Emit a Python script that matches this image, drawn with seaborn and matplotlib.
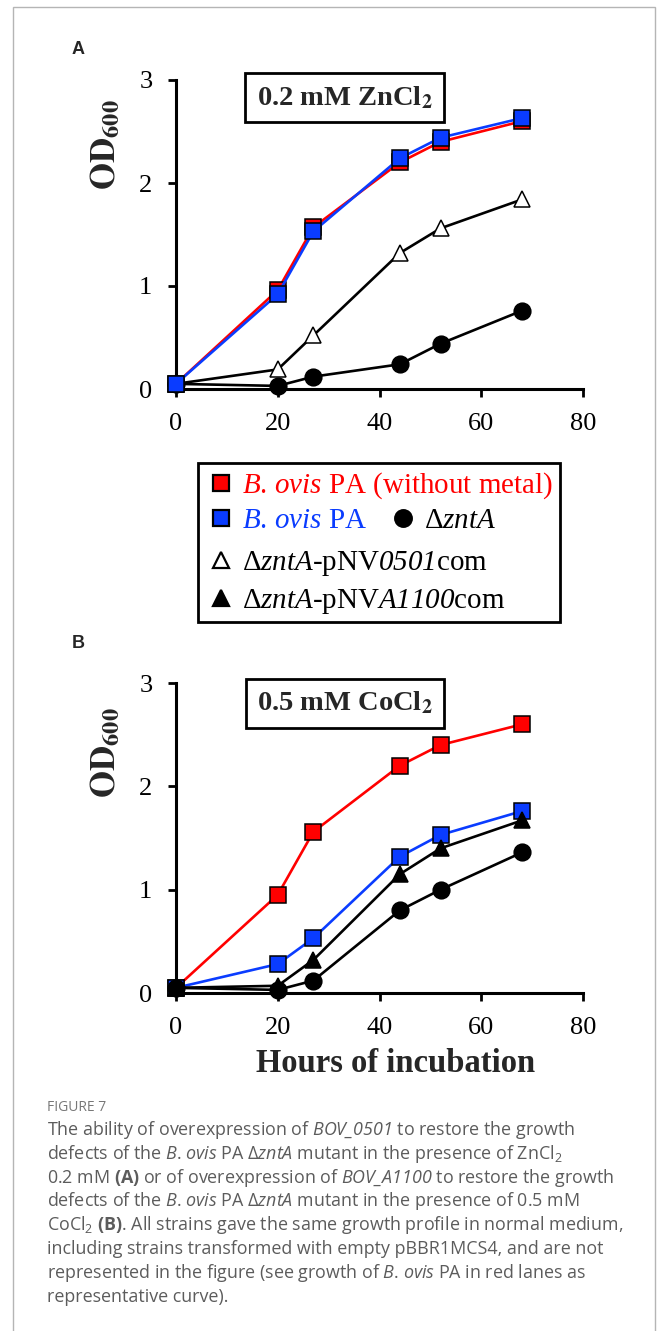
import numpy as np
import pandas as pd
import matplotlib
matplotlib.use("Agg")
import matplotlib.pyplot as plt
import seaborn as sns
from matplotlib.lines import Line2D
from matplotlib.patches import Rectangle

# ---------------- data ----------------
hours = [0, 20, 27, 44, 52, 68]

# Panel A : 0.2 mM ZnCl2
a_wt_nometal = [0.05, 0.96, 1.57, 2.20, 2.40, 2.60]
a_wt = [0.05, 0.92, 1.53, 2.24, 2.44, 2.63]
a_zntA = [0.05, 0.03, 0.12, 0.24, 0.44, 0.76]
a_0501com = [0.05, 0.19, 0.52, 1.32, 1.56, 1.84]

# Panel B : 0.5 mM CoCl2
b_wt_nometal = [0.05, 0.95, 1.56, 2.20, 2.40, 2.60]
b_wt = [0.05, 0.28, 0.53, 1.32, 1.53, 1.76]
b_zntA = [0.05, 0.03, 0.12, 0.80, 1.00, 1.36]
b_A1100com = [0.05, 0.07, 0.32, 1.15, 1.40, 1.67]

x_ticks = [0, 20, 40, 60, 80]
y_ticks = [0, 1, 2, 3]

RED = "#ff0000"
BLUE = "#0a3cff"

# ---------------- style ----------------
sns.set_style("ticks")
plt.rcParams["font.family"] = ["Liberation Serif", "DejaVu Serif"]
plt.rcParams["mathtext.fontset"] = "custom"
plt.rcParams["mathtext.rm"] = "Open Sans"
plt.rcParams["mathtext.it"] = "Open Sans:italic"
plt.rcParams["mathtext.bf"] = "Open Sans:bold"
plt.rcParams["mathtext.cal"] = "Open Sans:italic"          # caption italics (digits too)
plt.rcParams["mathtext.sf"] = "Liberation Serif:italic"    # legend italics (digits too)

W, H = 658, 1331
fig = plt.figure(figsize=(W / 100, H / 100), dpi=100)
fig.patch.set_facecolor("white")


def fx(px):
    return px / W


def fy(py):
    return 1 - py / H


def make_axes(top, bottom, left=176, right=583):
    return fig.add_axes([fx(left), fy(bottom), fx(right) - fx(left), (bottom - top) / H])


MS = 12
LW = 1.9


def series(ax, y, marker, face, line, z):
    sns.lineplot(x=hours, y=y, ax=ax, color=line, linewidth=LW, marker=marker,
                 markersize=MS, markerfacecolor=face, markeredgecolor="black",
                 markeredgewidth=1.1, clip_on=False, zorder=z, legend=False)


def style_axes(ax):
    ax.set_xlim(0, 80)
    ax.set_ylim(0, 3)
    ax.set_xticks(x_ticks)
    ax.set_yticks(y_ticks)
    ax.set_xticklabels([str(v) for v in x_ticks])
    ax.set_yticklabels([str(v) for v in y_ticks])
    sns.despine(ax=ax)
    for s in ["left", "bottom"]:
        ax.spines[s].set_linewidth(2.2)
        ax.spines[s].set_color("black")
    ax.tick_params(axis="both", direction="out", length=6, width=2, color="black",
                   labelsize=19, pad=11, labelcolor="black")
    for lab in ax.get_xticklabels() + ax.get_yticklabels():
        lab.set_fontfamily("Liberation Serif")
    ax.set_facecolor("white")
    ax.grid(False)
    ax.set_ylabel(r"$\mathbf{OD}_{\mathbf{600}}$", fontsize=25, math_fontfamily="stix",
                  rotation=90)
    ax.yaxis.label.set_va("center")


# ---------------- panel A ----------------
axA = make_axes(80, 389)
series(axA, a_zntA, "o", "black", "black", 3)
series(axA, a_0501com, "^", "white", "black", 3)
series(axA, a_wt_nometal, "s", RED, RED, 4)
series(axA, a_wt, "s", BLUE, BLUE, 5)
style_axes(axA)
axA.set_xlabel("")
axA.yaxis.set_label_coords(-0.17, 0.79)
axA.text(0.414, 0.943, r"0.2 mM ZnCl$_\mathbf{2}$", transform=axA.transAxes,
         ha="center", va="center", fontsize=20.5, fontweight="bold",
         family="Liberation Serif", math_fontfamily="stix", zorder=10,
         bbox=dict(boxstyle="square,pad=0.4", fc="white", ec="black", lw=2))

# ---------------- panel B ----------------
axB = make_axes(683, 993)
series(axB, b_wt_nometal, "s", RED, RED, 3)
series(axB, b_wt, "s", BLUE, BLUE, 4)
series(axB, b_A1100com, "^", "black", "black", 5)
series(axB, b_zntA, "o", "black", "black", 6)
style_axes(axB)
axB.yaxis.set_label_coords(-0.17, 0.775)
axB.set_xlabel("Hours of incubation", fontsize=23.5, fontweight="bold",
               family="Liberation Serif")
axB.xaxis.label.set_va("center")
axB.xaxis.set_label_coords(0.54, -0.226)
axB.text(0.415, 0.934, r"0.5 mM CoCl$_\mathbf{2}$", transform=axB.transAxes,
         ha="center", va="center", fontsize=20.5, fontweight="bold",
         family="Liberation Serif", math_fontfamily="stix", zorder=10,
         bbox=dict(boxstyle="square,pad=0.4", fc="white", ec="black", lw=2))

# ---------------- panel letters ----------------
fig.text(fx(78), fy(50), "A", fontsize=13, fontweight="bold", family="Liberation Sans",
         ha="center", va="center")
fig.text(fx(78), fy(643), "B", fontsize=13, fontweight="bold", family="Liberation Sans",
         ha="center", va="center")

# ---------------- shared legend ----------------
LEG_FS = 20.9
leg_prop = dict(family="Liberation Serif", size=LEG_FS, math_fontfamily="custom")


def leg_entry(marker, face, label, color, x, y):
    h = Line2D([], [], linestyle="none", marker=marker, markersize=MS,
               markerfacecolor=face, markeredgecolor="black", markeredgewidth=1.6)
    lg = fig.legend(handles=[h], labels=[label], loc="center left",
                    bbox_to_anchor=(fx(x), fy(y)), bbox_transform=fig.transFigure,
                    frameon=False, handlelength=0.6, handletextpad=0.45,
                    borderpad=0, borderaxespad=0, prop=leg_prop)
    lg.get_texts()[0].set_color(color)
    return lg


leg_entry("s", RED, r"$\mathsf{B}$. $\mathsf{ovis}$ PA (without metal)", RED, 212, 486)
leg_entry("s", BLUE, r"$\mathsf{B}$. $\mathsf{ovis}$ PA", BLUE, 212, 521)
leg_entry("o", "black", r"Δ$\mathsf{zntA}$", "black", 394, 521)
leg_entry("^", "white", r"Δ$\mathsf{zntA}$-pNV$\mathsf{0501}$com", "black", 212, 564)
leg_entry("^", "black", r"Δ$\mathsf{zntA}$-pNV$\mathsf{A1100}$com", "black", 212, 602)
fig.patches.append(Rectangle((fx(198), fy(622)), fx(560) - fx(198), (622 - 463) / H,
                             transform=fig.transFigure, fill=False, ec="black", lw=2))

# ---------------- figure border ----------------
fig.patches.append(Rectangle((fx(13), fy(1340)), fx(655) - fx(13), (1340 - 7) / H,
                             transform=fig.transFigure, fill=False, ec="#b5b5b5", lw=1.0))

# ---------------- caption ----------------
CAP = "#5c5c5c"
fig.text(fx(47), fy(1111), "FIGURE 7", fontsize=10, color="#777777", family="Open Sans",
         ha="left", va="baseline")
cap_lines = [
    r"The ability of overexpression of $\mathcal{BOV\_0501}$ to restore the growth",
    r"defects of the $\mathcal{B}$. $\mathcal{ovis}$ PA Δ$\mathcal{zntA}$ mutant in the presence of ZnCl$_2$",
    r"0.2 mM $\mathbf{(A)}$ or of overexpression of $\mathcal{BOV\_A1100}$ to restore the growth",
    r"defects of the $\mathcal{B}$. $\mathcal{ovis}$ PA Δ$\mathcal{zntA}$ mutant in the presence of 0.5 mM",
    r"CoCl$_2$ $\mathbf{(B)}$. All strains gave the same growth profile in normal medium,",
    r"including strains transformed with empty pBBR1MCS4, and are not",
    r"represented in the figure (see growth of $\mathcal{B}$. $\mathcal{ovis}$ PA in red lanes as",
    r"representative curve).",
]
for i, line in enumerate(cap_lines):
    fig.text(fx(47), fy(1135 + i * 23.8), line, fontsize=12.9, color=CAP,
             family="Open Sans", math_fontfamily="custom", ha="left", va="baseline")

fig.savefig("out.png", dpi=100, facecolor="white")
